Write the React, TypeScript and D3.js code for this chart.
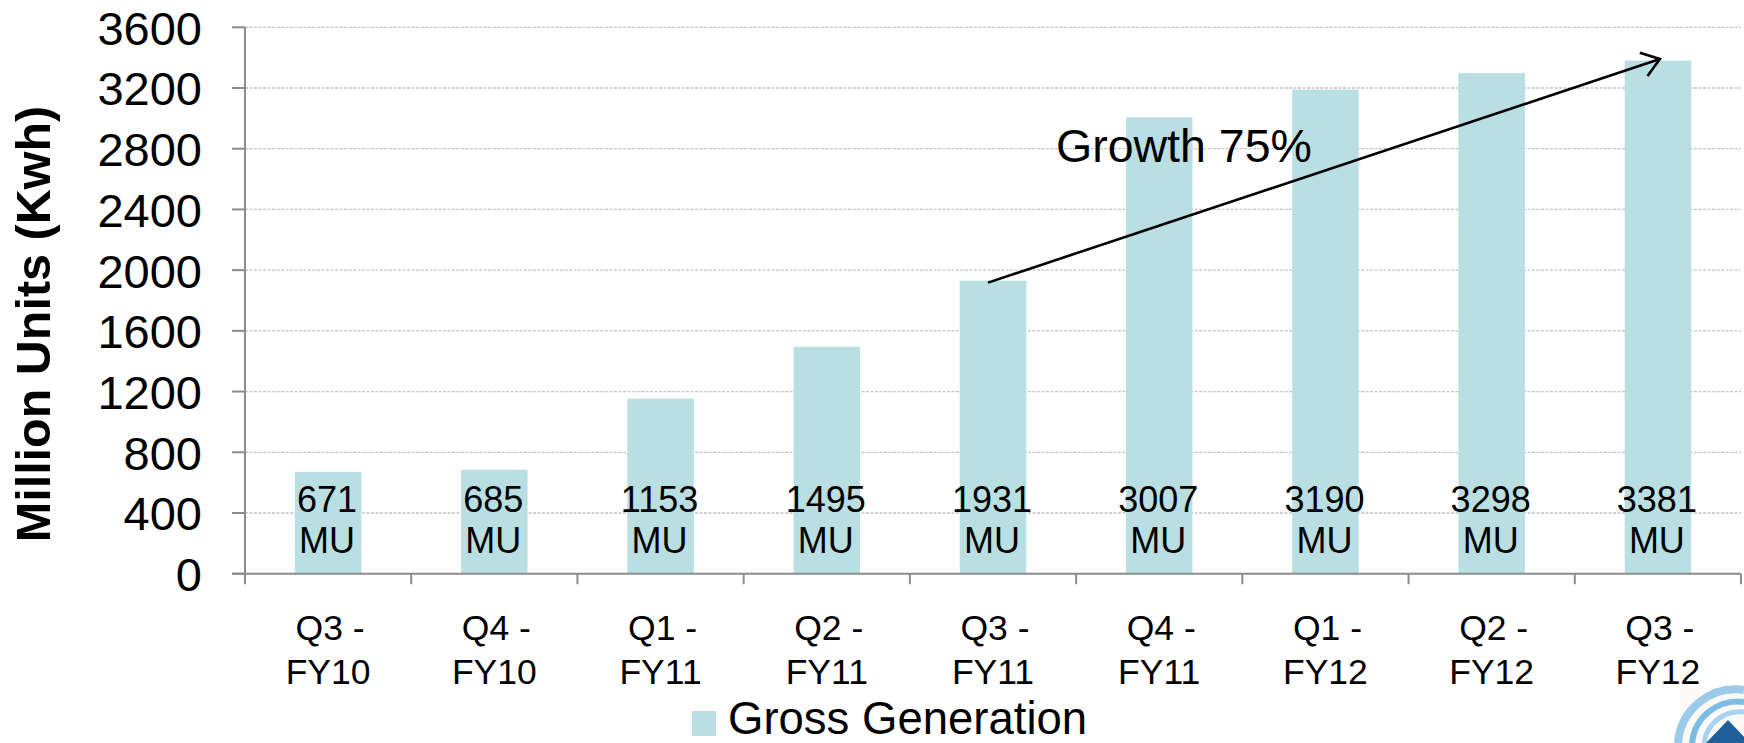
import React from "react";
import * as d3 from "d3";

const categories = [
  ["Q3 -", "FY10"],
  ["Q4 -", "FY10"],
  ["Q1 -", "FY11"],
  ["Q2 -", "FY11"],
  ["Q3 -", "FY11"],
  ["Q4 -", "FY11"],
  ["Q1 -", "FY12"],
  ["Q2 -", "FY12"],
  ["Q3 -", "FY12"],
];
const grossGeneration = [671, 685, 1153, 1495, 1931, 3007, 3190, 3298, 3381];
const yTicks = [0, 400, 800, 1200, 1600, 2000, 2400, 2800, 3200, 3600];
const yTitle = "Million Units (Kwh)";
const legendLabel = "Gross Generation";
const annotation = "Growth 75%";
const arrowFrom = 4;
const arrowTo = 8;

const W = 1744;
const H = 743;
const FONT = "'Liberation Sans', Arial, Helvetica, sans-serif";
const BAR = "#B9DFE3";

export default function App() {
  const left = 245;
  const right = 1741;
  const top = 27.3;
  const bottom = 573.7;
  const keys = categories.map((_, i) => String(i));
  const x = d3.scaleBand<string>().domain(keys).range([left, right]).paddingInner(0.6).paddingOuter(0.3);
  const xb = d3.scaleLinear().domain([0, categories.length]).range([left, right]);
  const y = d3.scaleLinear().domain([0, 3600]).range([bottom, top]);
  const bw = x.bandwidth();
  const cx = (i: number) => (x(String(i)) as number) + bw / 2;

  const ax0 = cx(arrowFrom) - 5;
  const ay0 = y(grossGeneration[arrowFrom]) + 2;
  const ax1 = cx(arrowTo) + 2;
  const ay1 = y(grossGeneration[arrowTo]) - 1.5;
  const ang = Math.atan2(ay1 - ay0, ax1 - ax0);
  const hl = 21;
  const hw = 0.62;
  const h1 = [ax1 - hl * Math.cos(ang - hw), ay1 - hl * Math.sin(ang - hw)];
  const h2 = [ax1 - hl * Math.cos(ang + hw), ay1 - hl * Math.sin(ang + hw)];

  return (
    <svg
      width={W}
      height={H}
      style={{ position: "absolute", left: 0, top: 0, background: "#fff" }}
      fontFamily={FONT}
    >
      <rect x={0} y={0} width={W} height={H} fill="#fff" />
      {/* gridlines */}
      {yTicks.filter((t) => t > 0).map((t) => (
        <line key={"g" + t} x1={left} x2={right} y1={y(t)} y2={y(t)} stroke="#C4C4C4" strokeWidth={1.3} strokeDasharray="3,1.5" />
      ))}
      {/* bars */}
      {grossGeneration.map((v, i) => (
        <rect key={"b" + i} x={x(String(i))} y={y(v)} width={bw} height={bottom - y(v)} fill={BAR} />
      ))}
      {/* axes */}
      <line x1={left} x2={left} y1={top} y2={bottom + 10.5} stroke="#8C8C8C" strokeWidth={2} />
      <line x1={left - 13} x2={right} y1={bottom} y2={bottom} stroke="#8C8C8C" strokeWidth={2} />
      {yTicks.map((t) => (
        <g key={"t" + t}>
          <line x1={left - 13} x2={left} y1={y(t)} y2={y(t)} stroke="#8C8C8C" strokeWidth={2} />
          <text x={202} y={y(t)} dy="0.37em" textAnchor="end" fontSize={47} fill="#000">
            {t}
          </text>
        </g>
      ))}
      {d3.range(1, categories.length + 1).map((i) => (
        <line key={"xt" + i} x1={xb(i)} x2={xb(i)} y1={bottom} y2={bottom + 10.5} stroke="#8C8C8C" strokeWidth={2} />
      ))}
      {/* category labels */}
      {categories.map((c, i) => (
        <text key={"c" + i} x={cx(i)} textAnchor="middle" fontSize={35.5} fill="#000">
          <tspan x={cx(i) + 2} y={640}>{c[0]}</tspan>
          <tspan x={cx(i)} y={683.5}>{c[1]}</tspan>
        </text>
      ))}
      {/* data labels */}
      {grossGeneration.map((v, i) => (
        <text key={"d" + i} textAnchor="middle" fontSize={36} fill="#000">
          <tspan x={cx(i) - 1} y={bottom - 62}>{v}</tspan>
          <tspan x={cx(i) - 1} y={bottom - 20.5}>MU</tspan>
        </text>
      ))}
      {/* y title */}
      <text
        transform={`translate(50, 324) rotate(-90)`}
        textAnchor="middle"
        fontSize={48.5}
        fontWeight="bold"
        fill="#000"
      >
        {yTitle}
      </text>
      {/* arrow */}
      <line x1={ax0} y1={ay0} x2={ax1} y2={ay1} stroke="#000" strokeWidth={2.6} />
      <polyline
        points={`${h1[0]},${h1[1]} ${ax1},${ay1} ${h2[0]},${h2[1]}`}
        fill="none"
        stroke="#000"
        strokeWidth={2.6}
      />
      <text x={1056} y={161.5} fontSize={46.5} fill="#000">
        {annotation}
      </text>
      {/* legend */}
      <rect x={692} y={711} width={24} height={25} fill={BAR} />
      <text x={728} y={733.5} fontSize={45.5} fill="#000">
        {legendLabel}
      </text>
      {/* logo fragment */}
      <g>
        <rect x={1680} y={688} width={64} height={55} fill="#FBFAF6" />
        <path d="M1678,743 A58,58 0 0 1 1744,690" fill="none" stroke="#9CCBEA" strokeWidth={8} />
        <path d="M1692,743 A46,46 0 0 1 1744,702" fill="none" stroke="#7DBCE5" strokeWidth={6} />
        <path d="M1704,743 A36,36 0 0 1 1744,712" fill="none" stroke="#A9D3EE" strokeWidth={5} />
        <polygon points="1728,720 1706,743 1750,743" fill="#1F5E98" />
      </g>
    </svg>
  );
}
